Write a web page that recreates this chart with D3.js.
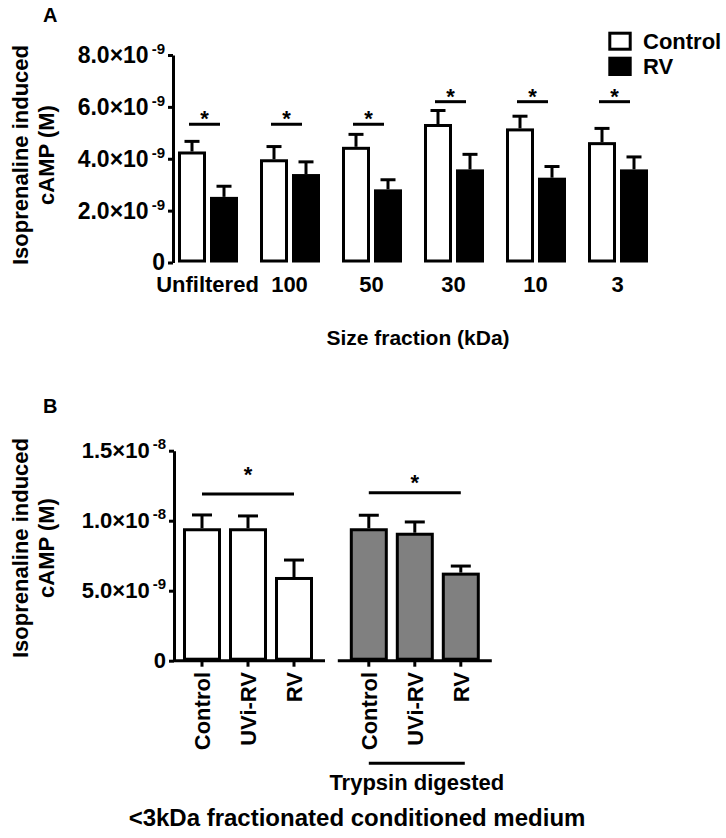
<!DOCTYPE html>
<html>
<head>
<meta charset="utf-8">
<script src="https://cdn.jsdelivr.net/npm/d3@7"></script>
<style>
  html, body { margin: 0; padding: 0; background: #fff; }
  svg text { font-family: "Liberation Sans", Arial, sans-serif; font-weight: bold; fill: #000; }
</style>
</head>
<body>
<svg id="chart" width="726" height="838"></svg>
<script>
// ---------- Panel A data ----------
const catsA = ["Unfiltered", "100", "50", "30", "10", "3"];
const seriesA = ["Control", "RV"];
const controlA = [4.28e-9, 3.98e-9, 4.46e-9, 5.34e-9, 5.17e-9, 4.64e-9];
const controlSemA = [0.39e-9, 0.49e-9, 0.48e-9, 0.52e-9, 0.47e-9, 0.53e-9];
const rvA = [2.53e-9, 3.41e-9, 2.82e-9, 3.59e-9, 3.27e-9, 3.59e-9];
const rvSemA = [0.41e-9, 0.47e-9, 0.37e-9, 0.58e-9, 0.43e-9, 0.48e-9];
const sigA = [5.33e-9, 5.33e-9, 5.33e-9, 6.2e-9, 6.2e-9, 6.2e-9];
const ticksA = [0, 2e-9, 4e-9, 6e-9, 8e-9];
const tickBaseA = ["0", "2.0×10", "4.0×10", "6.0×10", "8.0×10"];
const tickExpA = ["", "-9", "-9", "-9", "-9"];

// ---------- Panel B data ----------
const catsB = ["Control", "UVi-RV", "RV"];
const groupsB = ["Untreated", "Trypsin digested"];
const untreatedB = [9.46e-9, 9.46e-9, 5.98e-9];
const untreatedSemB = [0.95e-9, 0.88e-9, 1.21e-9];
const trypsinB = [9.46e-9, 9.14e-9, 6.29e-9];
const trypsinSemB = [0.93e-9, 0.77e-9, 0.47e-9];
const sigB = [11.9e-9, 12.0e-9];
const ticksB = [0, 5e-9, 1e-8, 1.5e-8];
const tickBaseB = ["0", "5.0×10", "1.0×10", "1.5×10"];
const tickExpB = ["", "-9", "-8", "-8"];

const svg = d3.select("#chart");
const SW = 3;

function styleAxis(g, base, exp, fs) {
  g.select(".domain").attr("stroke", "#000").attr("stroke-width", SW);
  g.selectAll(".tick line").attr("stroke", "#000").attr("stroke-width", SW);
  g.selectAll(".tick text").each(function (d, i) {
    const t = d3.select(this);
    t.text(null).style("font-size", fs + "px").attr("fill", "#000");
    t.append("tspan").text(base[i]);
    if (exp[i]) t.append("tspan").attr("dx", 3).attr("dy", -9).style("font-size", "15px").text(exp[i]);
  });
}

function errBar(g, cx, y0, y1, capW) {
  g.append("line").attr("x1", cx).attr("x2", cx).attr("y1", y0).attr("y2", y1)
    .attr("stroke", "#000").attr("stroke-width", SW);
  g.append("line").attr("x1", cx - capW / 2).attr("x2", cx + capW / 2).attr("y1", y1).attr("y2", y1)
    .attr("stroke", "#000").attr("stroke-width", SW);
}

// ================= PANEL A =================
const gA = svg.append("g");
const yA = d3.scaleLinear().domain([0, 8e-9]).range([262.5, 55]);
const xA = d3.scaleBand().domain(catsA).range([166.5, 658.5]).padding(0);
const x1A = d3.scaleBand().domain(seriesA).range([9.5, 73.5]).paddingInner(0.125).paddingOuter(0.0625);

gA.append("text").attr("x", 43).attr("y", 22).style("font-size", "20px").text("A");

const axA = gA.append("g").attr("transform", "translate(173,0)")
  .call(d3.axisLeft(yA).tickValues(ticksA).tickSize(5).tickSizeOuter(0).tickPadding(3));
styleAxis(axA, tickBaseA, tickExpA, 23);

catsA.forEach((c, i) => {
  const gx = xA(c);
  const bw = x1A.bandwidth();
  // control (white)
  const cx0 = gx + x1A("Control");
  gA.append("rect").attr("x", cx0 + SW / 2).attr("y", yA(controlA[i]) + SW / 2)
    .attr("width", bw - SW).attr("height", yA(0) - yA(controlA[i]) - SW)
    .attr("fill", "#fff").attr("stroke", "#000").attr("stroke-width", SW);
  errBar(gA, cx0 + bw / 2, yA(controlA[i]), yA(controlA[i] + controlSemA[i]), 15);
  // RV (black)
  const cx1 = gx + x1A("RV");
  gA.append("rect").attr("x", cx1).attr("y", yA(rvA[i]))
    .attr("width", bw).attr("height", yA(0) - yA(rvA[i])).attr("fill", "#000");
  errBar(gA, cx1 + bw / 2, yA(rvA[i]), yA(rvA[i] + rvSemA[i]), 15);
  // significance
  const lx0 = cx0 + bw / 2 - 3, lx1 = cx1 + bw / 2 - 4;
  gA.append("line").attr("x1", lx0).attr("x2", lx1).attr("y1", yA(sigA[i])).attr("y2", yA(sigA[i]))
    .attr("stroke", "#000").attr("stroke-width", SW);
  gA.append("text").attr("x", (lx0 + lx1) / 2).attr("y", yA(sigA[i]) + 2)
    .attr("text-anchor", "middle").style("font-size", "22px").text("*");
  // category label
  gA.append("text").attr("x", gx + xA.bandwidth() / 2).attr("y", 292)
    .attr("text-anchor", "middle").style("font-size", "22px").text(c);
});

gA.append("text").attr("x", 418).attr("y", 345).attr("text-anchor", "middle")
  .style("font-size", "21px").text("Size fraction (kDa)");

const tA = gA.append("g").attr("transform", "translate(0,155) rotate(-90)");
tA.append("text").attr("x", 0).attr("y", 28).attr("text-anchor", "middle").style("font-size", "22px").text("Isoprenaline induced");
tA.append("text").attr("x", 0).attr("y", 54).attr("text-anchor", "middle").style("font-size", "22px").text("cAMP (M)");

// legend
const legA = gA.append("g");
seriesA.forEach((s, i) => {
  const ly = 31.7 + i * 25;
  if (i === 0) {
    legA.append("rect").attr("x", 608.3 + SW / 2).attr("y", ly + SW / 2).attr("width", 23.4 - SW).attr("height", 19 - SW)
      .attr("fill", "#fff").attr("stroke", "#000").attr("stroke-width", SW);
  } else {
    legA.append("rect").attr("x", 608.3).attr("y", ly).attr("width", 23.4).attr("height", 19.3).attr("fill", "#000");
  }
  legA.append("text").attr("x", 643).attr("y", ly + 17.5).style("font-size", "22px").text(s);
});

// ================= PANEL B =================
const gB = svg.append("g");
const yB = d3.scaleLinear().domain([0, 1.5e-8]).range([660.7, 450.7]);
const xB = d3.scaleBand().domain(groupsB).range([164.6, 498.2]).padding(0);
const x1B = d3.scaleBand().domain(catsB).range([14.4, 152.4]).paddingInner(0.174).paddingOuter(0.087);
const valsB = [untreatedB, trypsinB];
const semsB = [untreatedSemB, trypsinSemB];
const fillsB = ["#fff", "#808080"];
const starDy = [-12, -3];

gB.append("text").attr("x", 43).attr("y", 413).style("font-size", "20px").text("B");

const axB = gB.append("g").attr("transform", "translate(174,0)")
  .call(d3.axisLeft(yB).tickValues(ticksB).tickSize(5).tickSizeOuter(0).tickPadding(3));
styleAxis(axB, tickBaseB, tickExpB, 22);

groupsB.forEach((grp, gi) => {
  const gx = xB(grp);
  const bw = x1B.bandwidth();
  const centers = catsB.map(c => gx + x1B(c) + bw / 2);
  // x-axis segment
  const sx0 = gi === 0 ? 174 : centers[0] - 31;
  const sx1 = centers[centers.length - 1] + 31;
  gB.append("line").attr("x1", sx0).attr("x2", sx1).attr("y1", yB(0)).attr("y2", yB(0))
    .attr("stroke", "#000").attr("stroke-width", SW);
  catsB.forEach((c, ci) => {
    const v = valsB[gi][ci], s = semsB[gi][ci];
    const bx = gx + x1B(c);
    gB.append("rect").attr("x", bx + SW / 2).attr("y", yB(v) + SW / 2)
      .attr("width", bw - SW).attr("height", yB(0) - yB(v) - SW)
      .attr("fill", fillsB[gi]).attr("stroke", "#000").attr("stroke-width", SW);
    errBar(gB, centers[ci], yB(v), yB(v + s), 20);
    // tick
    gB.append("line").attr("x1", centers[ci]).attr("x2", centers[ci]).attr("y1", yB(0)).attr("y2", yB(0) + 6)
      .attr("stroke", "#000").attr("stroke-width", SW);
    gB.append("text").attr("transform", `translate(${centers[ci]},672) rotate(-90)`)
      .attr("text-anchor", "end").attr("dy", "0.35em").style("font-size", "22px").text(c);
  });
  // significance
  const sy = yB(sigB[gi]);
  gB.append("line").attr("x1", centers[0]).attr("x2", centers[2]).attr("y1", sy).attr("y2", sy)
    .attr("stroke", "#000").attr("stroke-width", SW);
  gB.append("text").attr("x", (centers[0] + centers[2]) / 2).attr("y", sy + starDy[gi])
    .attr("text-anchor", "middle").style("font-size", "22px").text("*");
  if (gi === 1) {
    gB.append("line").attr("x1", centers[0]).attr("x2", centers[2] + 4).attr("y1", 763.3).attr("y2", 763.3)
      .attr("stroke", "#000").attr("stroke-width", SW);
    gB.append("text").attr("x", (centers[0] + centers[2]) / 2 + 2).attr("y", 790).attr("text-anchor", "middle")
      .style("font-size", "22px").text(grp);
  }
});

gB.append("text").attr("x", 357).attr("y", 826).attr("text-anchor", "middle")
  .style("font-size", "24px").text("<3kDa fractionated conditioned medium");

const tB = gB.append("g").attr("transform", "translate(0,548) rotate(-90)");
tB.append("text").attr("x", 0).attr("y", 28).attr("text-anchor", "middle").style("font-size", "22px").text("Isoprenaline induced");
tB.append("text").attr("x", 0).attr("y", 54).attr("text-anchor", "middle").style("font-size", "22px").text("cAMP (M)");
</script>
</body>
</html>
